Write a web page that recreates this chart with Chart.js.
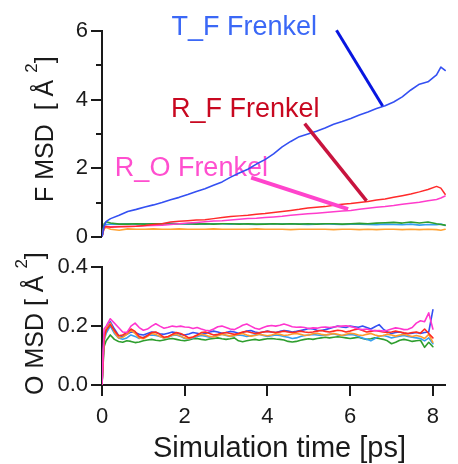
<!DOCTYPE html>
<html><head><meta charset="utf-8">
<script src="https://cdn.jsdelivr.net/npm/chart.js@4.4.1/dist/chart.umd.min.js"></script>
<style>
html,body{margin:0;padding:0;background:#fff;}
#wrap{position:relative;width:458px;height:464px;overflow:hidden;}
#c1{position:absolute;left:0;top:0;}
#c2{position:absolute;left:0;top:240px;}
</style></head><body>
<div id="wrap">
<canvas id="c1" width="458" height="264"></canvas>
<canvas id="c2" width="458" height="224"></canvas>
</div>
<script>
// ---------- data ----------
const xTicks = [0, 2, 4, 6, 8];
const fTicks = [0, 2, 4, 6];
const fMinorTicks = [1, 3, 5];
const oTicks = [0, 0.2, 0.4];

// top panel (F MSD)
const tTop = [0,0.05,0.1,0.2,0.4,0.6,0.8,1.0,1.2,1.4,1.6,1.8,2.0,2.2,2.4,2.6,2.8,3.0,3.2,3.4,3.6,3.8,4.0,4.2,4.4,4.6,4.8,5.0,5.2,5.4,5.6,5.8,6.0,6.2,6.4,6.6,6.8,7.0,7.2,7.4,7.6,7.8,7.9,8.0];
const fBlue   = [0,0.32,0.45,0.53,0.63,0.74,0.8,0.87,0.93,1.0,1.08,1.15,1.23,1.32,1.4,1.5,1.6,1.74,1.86,1.97,2.12,2.25,2.42,2.62,2.78,2.92,3.0,3.08,3.17,3.28,3.36,3.45,3.55,3.64,3.74,3.82,3.93,4.08,4.28,4.45,4.52,4.72,4.95,4.85];
const fRed    = [0,0.28,0.3,0.28,0.29,0.3,0.31,0.33,0.36,0.38,0.43,0.45,0.47,0.49,0.5,0.53,0.56,0.59,0.61,0.63,0.66,0.68,0.71,0.74,0.77,0.8,0.84,0.86,0.88,0.92,0.95,0.97,1.0,1.03,1.07,1.1,1.15,1.2,1.25,1.31,1.38,1.47,1.42,1.24];
const fPink   = [0,0.27,0.3,0.29,0.3,0.3,0.31,0.32,0.33,0.34,0.36,0.38,0.4,0.42,0.44,0.46,0.47,0.49,0.51,0.53,0.54,0.56,0.58,0.6,0.63,0.65,0.67,0.69,0.71,0.73,0.75,0.77,0.8,0.83,0.86,0.88,0.91,0.95,0.98,1.01,1.05,1.09,1.13,1.19];
const fGreen  = [0,0.38,0.44,0.4,0.37,0.37,0.38,0.37,0.38,0.38,0.37,0.38,0.38,0.37,0.38,0.37,0.38,0.38,0.37,0.38,0.37,0.37,0.38,0.37,0.38,0.37,0.38,0.37,0.38,0.38,0.37,0.38,0.39,0.38,0.4,0.41,0.42,0.4,0.43,0.4,0.43,0.38,0.36,0.34];
const fCyan   = [0,0.33,0.36,0.37,0.37,0.38,0.37,0.38,0.37,0.38,0.39,0.38,0.37,0.38,0.37,0.38,0.38,0.37,0.38,0.37,0.36,0.37,0.38,0.37,0.38,0.37,0.36,0.37,0.38,0.37,0.36,0.37,0.37,0.36,0.35,0.37,0.36,0.35,0.37,0.34,0.36,0.35,0.37,0.33];
const fOrange = [0,0.24,0.27,0.22,0.19,0.23,0.22,0.22,0.23,0.22,0.22,0.23,0.22,0.22,0.22,0.23,0.22,0.22,0.22,0.22,0.23,0.22,0.22,0.22,0.21,0.22,0.22,0.22,0.22,0.21,0.22,0.22,0.21,0.22,0.21,0.22,0.22,0.21,0.22,0.21,0.22,0.21,0.19,0.22];

// bottom panel (O MSD)
const tBot = [0,0.05,
 0.1,0.2,0.3,0.4,0.5,0.6,0.7,0.8,0.9,1.0,
 1.1,1.2,1.3,1.4,1.5,1.6,1.7,1.8,1.9,2.0,
 2.1,2.2,2.3,2.4,2.5,2.6,2.7,2.8,2.9,3.0,
 3.1,3.2,3.3,3.4,3.5,3.6,3.7,3.8,3.9,4.0,
 4.1,4.2,4.3,4.4,4.5,4.6,4.7,4.8,4.9,5.0,
 5.1,5.2,5.3,5.4,5.5,5.6,5.7,5.8,5.9,6.0,
 6.1,6.2,6.3,6.4,6.5,6.6,6.7,6.8,6.9,7.0,
 7.1,7.2,7.3,7.4,7.5,7.6,7.7,7.8,7.9,8.0];
const oMagenta = [0,0.19,
 0.2,0.225,0.21,0.195,0.18,0.178,0.2,0.21,0.195,0.186,
 0.19,0.2,0.208,0.2,0.193,0.196,0.2,0.198,0.2,0.197,
 0.196,0.192,0.195,0.19,0.186,0.184,0.19,0.198,0.2,0.195,
 0.19,0.188,0.195,0.203,0.207,0.2,0.193,0.189,0.195,0.2,
 0.202,0.2,0.203,0.207,0.203,0.198,0.196,0.197,0.195,0.192,
 0.194,0.193,0.196,0.197,0.195,0.197,0.199,0.2,0.201,0.199,
 0.195,0.19,0.188,0.19,0.186,0.184,0.185,0.183,0.186,0.19,
 0.194,0.192,0.188,0.189,0.195,0.21,0.218,0.215,0.245,0.19];
const oBlue = [0,0.17,
 0.19,0.215,0.19,0.168,0.165,0.172,0.18,0.178,0.172,0.17,
 0.175,0.18,0.178,0.174,0.172,0.176,0.18,0.177,0.172,0.17,
 0.173,0.178,0.176,0.172,0.175,0.18,0.183,0.18,0.176,0.178,
 0.182,0.18,0.176,0.178,0.183,0.185,0.18,0.177,0.18,0.183,
 0.18,0.178,0.182,0.185,0.183,0.18,0.182,0.185,0.188,0.192,
 0.19,0.186,0.185,0.188,0.192,0.196,0.2,0.197,0.195,0.2,
 0.198,0.196,0.2,0.195,0.19,0.198,0.205,0.19,0.18,0.175,
 0.178,0.18,0.176,0.174,0.176,0.178,0.175,0.178,0.18,0.255];
const oRed = [0,0.16,
 0.185,0.205,0.185,0.167,0.17,0.178,0.19,0.182,0.165,0.16,
 0.168,0.178,0.18,0.172,0.162,0.165,0.172,0.178,0.175,0.168,
 0.16,0.163,0.17,0.178,0.18,0.175,0.17,0.172,0.176,0.178,
 0.175,0.172,0.175,0.18,0.182,0.178,0.175,0.177,0.18,0.182,
 0.18,0.178,0.18,0.183,0.18,0.178,0.18,0.183,0.18,0.178,
 0.18,0.183,0.185,0.182,0.18,0.183,0.186,0.184,0.18,0.183,
 0.188,0.19,0.185,0.18,0.182,0.185,0.183,0.18,0.178,0.18,
 0.183,0.18,0.177,0.175,0.178,0.18,0.176,0.19,0.175,0.16];
const oOrange = [0,0.15,
 0.19,0.21,0.18,0.16,0.162,0.172,0.185,0.175,0.16,0.157,
 0.165,0.175,0.172,0.165,0.16,0.163,0.17,0.172,0.166,0.16,
 0.157,0.162,0.168,0.172,0.17,0.165,0.163,0.167,0.172,0.17,
 0.166,0.168,0.172,0.175,0.17,0.166,0.168,0.172,0.17,0.167,
 0.17,0.174,0.172,0.168,0.17,0.173,0.175,0.172,0.168,0.17,
 0.174,0.176,0.172,0.17,0.172,0.175,0.172,0.168,0.172,0.176,
 0.174,0.17,0.168,0.172,0.175,0.17,0.166,0.168,0.172,0.17,
 0.166,0.17,0.172,0.168,0.165,0.168,0.165,0.158,0.172,0.145];
const oGreen = [0,0.13,
 0.15,0.17,0.155,0.148,0.145,0.15,0.148,0.144,0.146,0.15,
 0.153,0.155,0.152,0.15,0.153,0.156,0.158,0.155,0.152,0.15,
 0.153,0.157,0.158,0.155,0.153,0.156,0.158,0.16,0.157,0.155,
 0.157,0.16,0.15,0.147,0.15,0.153,0.155,0.152,0.155,0.157,
 0.158,0.156,0.155,0.153,0.148,0.146,0.148,0.152,0.155,0.157,
 0.155,0.158,0.16,0.162,0.16,0.162,0.164,0.162,0.16,0.158,
 0.16,0.162,0.158,0.155,0.157,0.16,0.158,0.155,0.15,0.14,
 0.145,0.152,0.155,0.152,0.148,0.15,0.152,0.128,0.145,0.13];
const oCyan = [0,0.15,
 0.175,0.2,0.175,0.16,0.155,0.16,0.17,0.165,0.158,0.162,
 0.168,0.17,0.168,0.165,0.16,0.162,0.168,0.17,0.165,0.158,
 0.156,0.16,0.165,0.168,0.166,0.162,0.165,0.17,0.172,0.168,
 0.165,0.167,0.17,0.168,0.165,0.167,0.17,0.172,0.168,0.165,
 0.167,0.17,0.168,0.165,0.162,0.158,0.16,0.165,0.168,0.17,
 0.172,0.17,0.168,0.17,0.172,0.174,0.17,0.168,0.17,0.172,
 0.17,0.165,0.16,0.155,0.15,0.158,0.165,0.168,0.165,0.16,
 0.163,0.166,0.168,0.165,0.162,0.16,0.158,0.15,0.16,0.14];

// annotations (data coordinates: [time, F MSD])
const annLabels   = ['T_F Frenkel', 'R_F Frenkel', 'R_O Frenkel'];
const annLabelAt  = [[1.62, 5.875], [1.61, 3.495], [0.30, 1.768]];
const annLineFrom = [[5.467, 6.02], [4.725, 3.30], [3.478, 1.727]];
const annLineTo   = [[6.543, 3.816], [6.168, 1.049], [5.738, 0.807]];

// ---------- styling ----------
const FAM = "'Liberation Sans', Arial, Helvetica, sans-serif";
const AX = '#1a1a1a';
const annTextColors = ['#3b68f6', '#c80820', '#ff4fcf'];
const annLineColors = ['#0816e0', '#c8143e', '#ff44cc'];
const annLineWidths = [3, 3.5, 4];

const pts = (ts, vs) => ts.map((t, i) => ({x: t, y: vs[i]}));
const ds = (label, ts, vs, color, w) => ({label, data: pts(ts, vs), borderColor: color, borderWidth: w,
  pointRadius: 0, fill: false, tension: 0, borderJoinStyle: 'round', borderCapStyle: 'round'});

function tickMarks(yMajor, yMinor, xMajor) {
  return {
    id: 'tickMarks',
    afterDraw(chart) {
      const ctx = chart.ctx, ys = chart.scales.y, xs = chart.scales.x;
      ctx.save();
      ctx.strokeStyle = AX; ctx.lineWidth = 2; ctx.lineCap = 'butt';
      const L = chart.chartArea.left, B = chart.chartArea.bottom;
      const hl = (v, len) => { const p = Math.round(ys.getPixelForValue(v));
        ctx.beginPath(); ctx.moveTo(L - len, p); ctx.lineTo(L, p); ctx.stroke(); };
      yMajor.forEach(v => hl(v, 11));
      yMinor.forEach(v => hl(v, 6));
      xMajor.forEach(v => { const p = Math.round(xs.getPixelForValue(v));
        ctx.beginPath(); ctx.moveTo(p, B); ctx.lineTo(p, B + 11); ctx.stroke(); });
      ctx.restore();
    }
  };
}

function yTitle(base, sup, tail, bx, by, size) {
  return {
    id: 'yTitle',
    afterDraw(chart) {
      const ctx = chart.ctx;
      ctx.save();
      ctx.translate(bx, by); ctx.rotate(-Math.PI / 2);
      ctx.fillStyle = AX; ctx.textBaseline = 'alphabetic'; ctx.textAlign = 'left';
      ctx.font = size + 'px ' + FAM;
      ctx.fillText(base, 0, 0);
      let x = ctx.measureText(base).width;
      ctx.font = Math.round(size * 0.68) + 'px ' + FAM;
      ctx.fillText(sup, x, -16);
      x += ctx.measureText(sup).width;
      ctx.font = size + 'px ' + FAM;
      ctx.fillText(tail, x, 0);
      ctx.restore();
    }
  };
}

const annotations = {
  id: 'annotations',
  beforeDatasetsDraw(chart) {
    const ctx = chart.ctx, xs = chart.scales.x, ys = chart.scales.y;
    ctx.save();
    ctx.font = '27px ' + FAM; ctx.textBaseline = 'alphabetic'; ctx.textAlign = 'left';
    annLabels.forEach((t, i) => {
      ctx.fillStyle = annTextColors[i];
      ctx.fillText(t, xs.getPixelForValue(annLabelAt[i][0]), ys.getPixelForValue(annLabelAt[i][1]));
    });
    ctx.restore();
  },
  afterDatasetsDraw(chart) {
    const ctx = chart.ctx, xs = chart.scales.x, ys = chart.scales.y;
    ctx.save();
    ctx.lineCap = 'butt';
    annLineFrom.forEach((a, i) => {
      const b = annLineTo[i];
      ctx.strokeStyle = annLineColors[i]; ctx.lineWidth = annLineWidths[i];
      ctx.beginPath();
      ctx.moveTo(xs.getPixelForValue(a[0]), ys.getPixelForValue(a[1]));
      ctx.lineTo(xs.getPixelForValue(b[0]), ys.getPixelForValue(b[1]));
      ctx.stroke();
    });
    ctx.restore();
  }
};

const xTitle = {
  id: 'xTitle',
  afterDraw(chart) {
    const ctx = chart.ctx;
    ctx.save();
    ctx.fillStyle = AX; ctx.font = '29px ' + FAM;
    ctx.textAlign = 'left'; ctx.textBaseline = 'alphabetic';
    ctx.fillText('Simulation time [ps]', 153, 217);
    ctx.restore();
  }
};

const setTicks = vals => s => { s.ticks = vals.map(v => ({value: v})); };

const commonX = (display) => {
  const o = {
    type: 'linear', min: 0, max: 8.3, display,
    afterBuildTicks: setTicks(xTicks),
    grid: {display: false, drawTicks: false},
    border: {display: true, color: AX, width: 2},
    ticks: {padding: 19, color: AX, font: {size: 22, family: FAM}, maxRotation: 0, autoSkip: false,
      callback: v => String(v)}
  };
  if (display) o.afterFit = s => { s.height = 79; };
  return o;
};

const baseOpts = {
  responsive: false, animation: false, devicePixelRatio: 1,
  plugins: {legend: {display: false}, tooltip: {enabled: false}},
  elements: {line: {borderWidth: 1.5}}
};

// ---------- top chart ----------
new Chart(document.getElementById('c1'), {
  type: 'line',
  data: {datasets: [
    ds('T_F Frenkel', tTop, fBlue, '#3450f2', 1.6),
    ds('R_F Frenkel', tTop, fRed, '#ff2a2a', 1.5),
    ds('R_O Frenkel', tTop, fPink, '#ff3ccc', 1.5),
    ds('green', tTop, fGreen, '#2e9e2e', 1.6),
    ds('cyan', tTop, fCyan, '#36a0f0', 1.6),
    ds('orange', tTop, fOrange, '#ffa436', 1.6)
  ]},
  options: Object.assign({}, baseOpts, {
    layout: {padding: {top: 31, bottom: 0, left: 0, right: 0}},
    scales: {
      x: commonX(false),
      y: {min: 0, max: 6, position: 'left',
        afterBuildTicks: setTicks(fTicks),
        afterFit: s => { s.width = 102; },
        grid: {display: false, drawTicks: false},
        border: {display: true, color: AX, width: 2},
        ticks: {padding: 14, color: AX, font: {size: 22, family: FAM}, callback: v => String(v)}
      }
    }
  }),
  plugins: [tickMarks(fTicks, fMinorTicks, []), yTitle('F MSD  [ Å ', '2', ']', 53, 202, 25), annotations]
});

// ---------- bottom chart ----------
new Chart(document.getElementById('c2'), {
  type: 'line',
  data: {datasets: [
    ds('R_O', tBot, oMagenta, '#ff36cf', 1.6),
    ds('red', tBot, oRed, '#ff2a20', 1.6),
    ds('orange', tBot, oOrange, '#ff9a2a', 1.6),
    ds('blue', tBot, oBlue, '#3450f2', 1.6),
    ds('cyan', tBot, oCyan, '#36a0f0', 1.6),
    ds('green', tBot, oGreen, '#2e9e2e', 1.6)
  ]},
  options: Object.assign({}, baseOpts, {
    layout: {padding: {top: 27, bottom: 0, left: 0, right: 0}},
    scales: {
      x: commonX(true),
      y: {min: 0, max: 0.4, position: 'left',
        afterBuildTicks: setTicks(oTicks),
        afterFit: s => { s.width = 102; },
        grid: {display: false, drawTicks: false},
        border: {display: true, color: AX, width: 2},
        ticks: {padding: 14, color: AX, font: {size: 22, family: FAM}, callback: v => Number(v).toFixed(1)}
      }
    }
  }),
  plugins: [tickMarks(oTicks, [], xTicks), yTitle('O MSD [ Å ', '2', ']', 43, 155, 25), xTitle]
});
</script>
</body></html>
